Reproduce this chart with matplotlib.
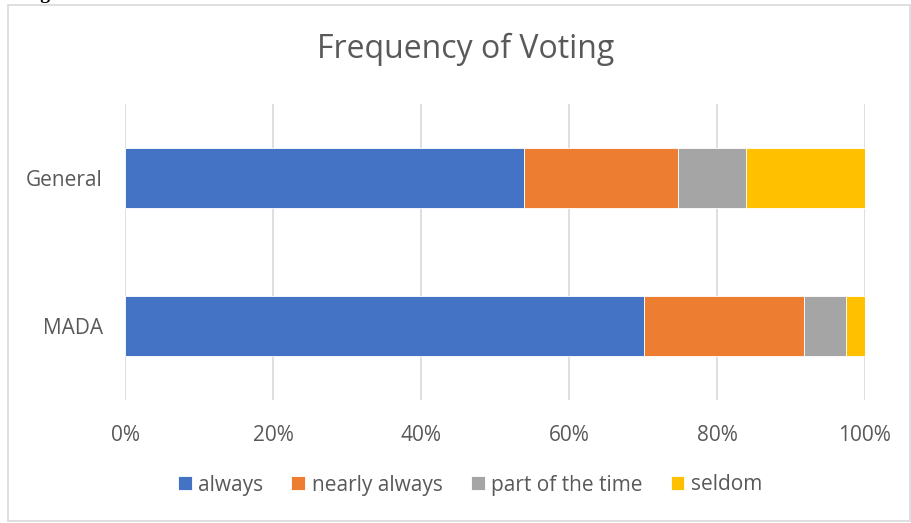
import matplotlib.pyplot as plt
from matplotlib.patches import Rectangle
from matplotlib.ticker import PercentFormatter

plt.rcParams['font.family'] = ['Open Sans', 'DejaVu Sans']

groups = ["MADA", "General"]
series = ["always", "nearly always", "part of the time", "seldom"]
shares = {
    "always": [70.2, 53.9],
    "nearly always": [21.6, 20.8],
    "part of the time": [5.6, 9.2],
    "seldom": [2.6, 16.1],
}
colors = ["#4472C4", "#ED7D31", "#A5A5A5", "#FFC000"]
ticks = [0, 20, 40, 60, 80, 100]

text_grey = "#595959"
W, H = 911, 523

fig = plt.figure(figsize=(W / 100, H / 100), dpi=100)
ax = fig.add_axes([125 / W, 1 - 400 / H, 740 / W, 296 / H])

left = [0.0] * len(groups)
for name, color in zip(series, colors):
    vals = shares[name]
    ax.barh(range(len(groups)), vals, left=left, height=0.4, color=color,
            edgecolor="white", linewidth=0.6, label=name, zorder=3)
    left = [a + b for a, b in zip(left, vals)]

ax.set_xlim(0, 100)
ax.set_ylim(-0.5, 1.5)
ax.set_xticks(ticks)
ax.xaxis.set_major_formatter(PercentFormatter(decimals=0))
ax.set_yticks(range(len(groups)))
ax.set_yticklabels(groups)
ax.tick_params(length=0, labelsize=15, colors=text_grey)
ax.tick_params(axis="x", pad=18)
ax.tick_params(axis="y", pad=16)
ax.grid(axis="x", color="#D9D9D9", linewidth=1.2, zorder=0)
for s in ax.spines.values():
    s.set_visible(False)

fig.text(466 / W, 1 - 49 / H, "Frequency of Voting", ha="center", va="center",
         fontsize=23, color=text_grey)

leg = fig.legend(loc="center", bbox_to_anchor=(470 / W, 1 - 485 / H), ncol=4,
                 frameon=False, fontsize=15, labelcolor=text_grey,
                 handlelength=0.67, handleheight=0.67, handletextpad=0.3,
                 columnspacing=1.35)

# chart frame and caption above it
fig.add_artist(Rectangle((8 / W, 1 - 521 / H), 902 / W, 516 / H,
                         transform=fig.transFigure, fill=False,
                         edgecolor="#D9D9D9", linewidth=1.2))
fig.text(24 / W, 1 + 1 / H, "Figure", ha="left", va="baseline",
         fontsize=14, fontweight="bold", family="Liberation Serif")

fig.savefig("out.png", dpi=100)
